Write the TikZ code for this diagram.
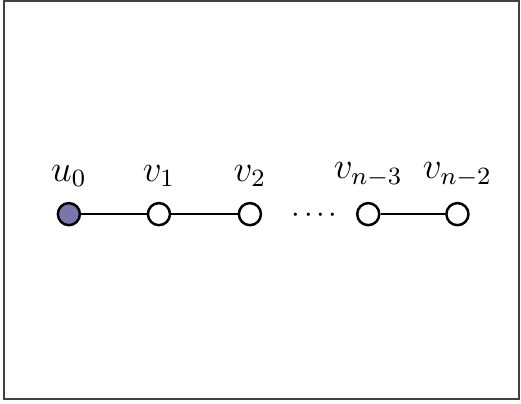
\documentclass[tikz,border=0pt]{standalone}
\usepackage{amsmath,amssymb}
\usepackage{tikz}
\usetikzlibrary{positioning}

\definecolor{rootfill}{RGB}{122,118,172}

\begin{document}
\begin{tikzpicture}[
    vtx/.style={draw, circle, line width=0.8pt, minimum size=0.25cm, inner sep=0pt, fill=white},
    root/.style={vtx, fill=rootfill},
    vlabel/.style={above=0.13cm, inner sep=1pt, font=\large},
    edge/.style={line width=0.8pt}
]
    % frame
    \draw[line width=0.6pt, draw=black!75] (0.045,0.057) rectangle (5.875,4.56);
    \useasboundingbox (0,0) rectangle (5.9,4.575);

    % path vertices
    \node[root] (u0) at (0.78,2.15) {};
    \node[vtx] (v1) at (1.80,2.15) {};
    \node[vtx] (v2) at (2.83,2.15) {};
    \node[vtx] (vn3) at (4.17,2.15) {};
    \node[vtx] (vn2) at (5.18,2.15) {};
    \node (dots) at (3.56,2.13) {${\cdot}\mkern2mu{\cdot}\mkern2mu{\cdot}\mkern2mu{\cdot}$};

    \draw[edge] (u0) -- (v1);
    \draw[edge] (v1) -- (v2);
    \draw[edge] (vn3) -- (vn2);

    % labels
    \node[vlabel] (lu0) at (u0.north) {$u_0$};
    \node[vlabel] (lv1) at (v1.north) {$v_1$};
    \node[vlabel] (lv2) at (v2.north) {$v_2$};
    \node[vlabel] (lvn3) at (vn3.north) {$v_{n-3}$};
    \node[vlabel] (lvn2) at (vn2.north) {$v_{n-2}$};
\end{tikzpicture}
\end{document}
